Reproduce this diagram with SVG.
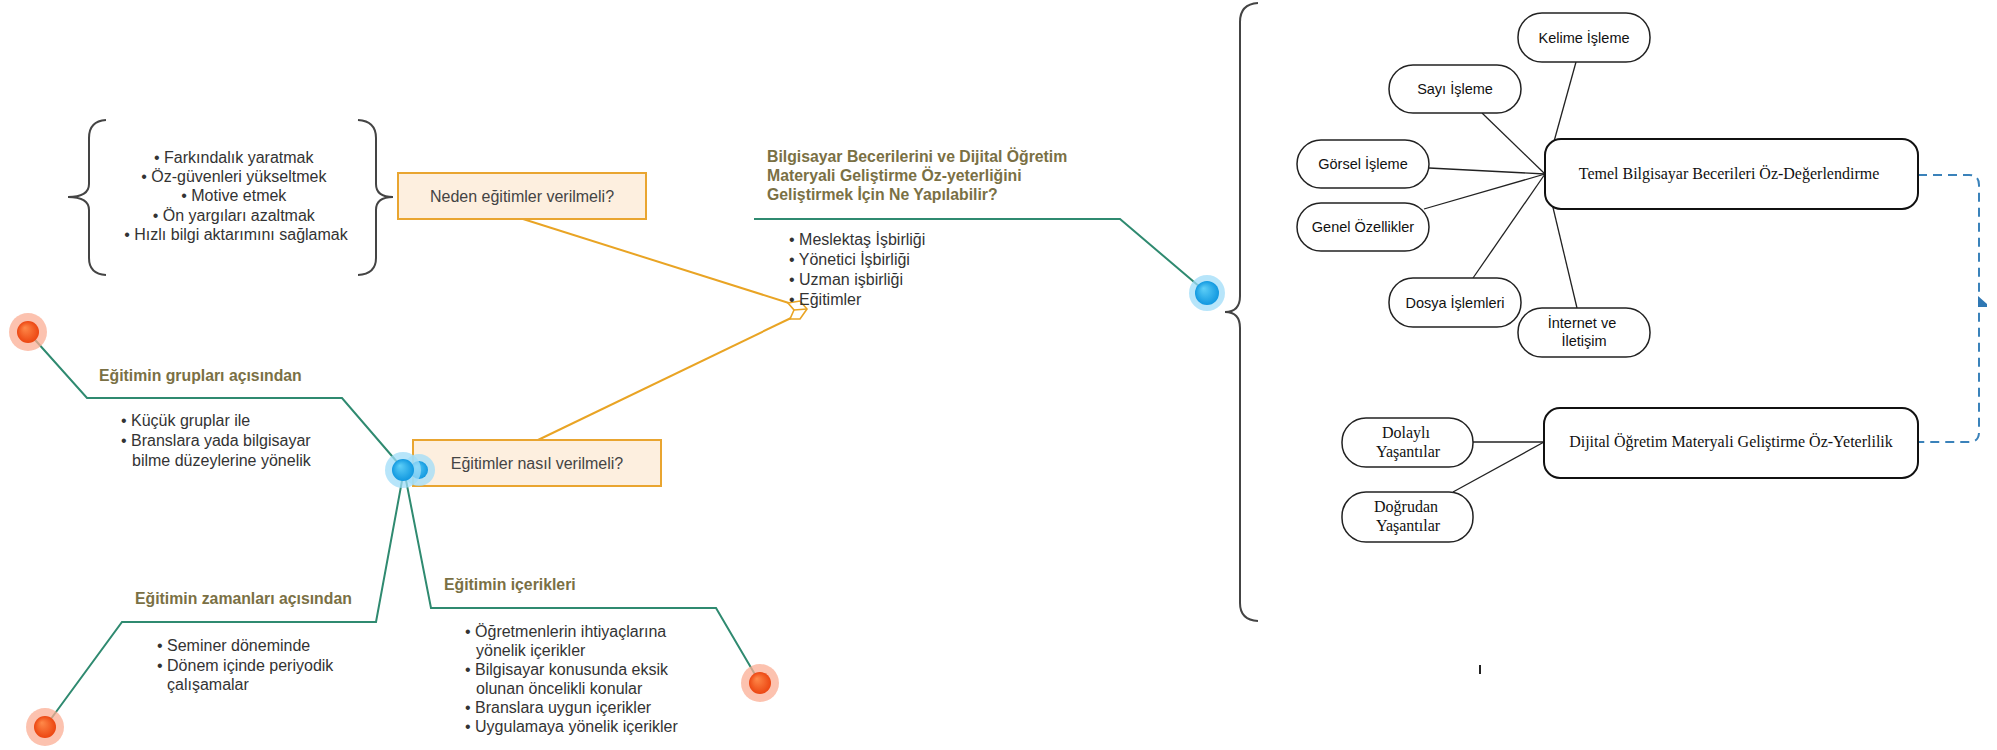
<svg xmlns="http://www.w3.org/2000/svg" width="1997" height="750" viewBox="0 0 1997 750">
  <style>
    .body { font-family: "Liberation Sans", Arial, sans-serif; font-size: 16px; fill: #333333; }
    .title { font-family: "Liberation Sans", Arial, sans-serif; font-size: 15.8px; font-weight: bold; fill: #7a7044; }
    .qbox { fill: #fdefdf; stroke: #e9a530; stroke-width: 2; }
    .qtext { font-family: "Liberation Sans", Arial, sans-serif; font-size: 16px; fill: #444444; text-anchor: middle; }
    .branch { fill: none; stroke: #2f8a70; stroke-width: 2; }
    .link { fill: none; stroke: #e9a424; stroke-width: 2; }
    .brace { fill: none; stroke: #444444; stroke-width: 2; }
    .pill { fill: #ffffff; stroke: #222222; stroke-width: 1.5; }
    .main { fill: #ffffff; stroke: #111111; stroke-width: 2; }
    .pilltext { font-family: "Liberation Sans", Arial, sans-serif; font-size: 14.5px; fill: #111111; text-anchor: middle; }
    .serif { font-family: "Liberation Serif", "Times New Roman", serif; font-size: 16px; fill: #111111; text-anchor: middle; }
    .spoke { fill: none; stroke: #222222; stroke-width: 1.3; }
    .dash { fill: none; stroke: #3a82ba; stroke-width: 2; stroke-dasharray: 9 6; }
    .haloRed { fill: #fbae94; opacity: 0.75; }
    .haloBlue { fill: #9fdcf8; opacity: 0.75; }
  </style>
  <defs>
    <radialGradient id="coreRed" cx="50%" cy="50%" r="50%" fx="35%" fy="30%">
      <stop offset="0" stop-color="#ff8a4a"/>
      <stop offset="1" stop-color="#ec4612"/>
    </radialGradient>
    <radialGradient id="coreBlue" cx="50%" cy="50%" r="50%" fx="35%" fy="30%">
      <stop offset="0" stop-color="#5fd0f8"/>
      <stop offset="1" stop-color="#1198e0"/>
    </radialGradient>
  </defs>

  <rect width="1997" height="750" fill="#ffffff"/>

  <!-- connectors -->
  <g id="connectors">
    <!-- mind-map branches -->
    <path class="branch" d="M28 332 L87 398 L342 398 L404 470"/>
    <path class="branch" d="M404 470 L376 622 L122 622 L45 727"/>
    <path class="branch" d="M404 470 L431 608 L716 608 L760 683"/>
    <path class="branch" d="M754 219 L1120 219 L1207 293"/>
    <!-- question links -->
    <path class="link" d="M523 219 L792 304"/>
    <path class="link" d="M538 440 L791 318"/>
    <g id="link-head">
      <polygon points="788,303 800,301 807,309 800,319 790,319 794,310" fill="#ffffff" stroke="#e9a424" stroke-width="1.6"/>
      <line x1="794" y1="310" x2="807" y2="309" stroke="#e9a424" stroke-width="1.6"/>
    </g>
    <!-- spokes to the self-assessment box -->
    <line class="spoke" x1="1576" y1="62" x2="1545" y2="174"/>
    <line class="spoke" x1="1482" y1="113" x2="1545" y2="174"/>
    <line class="spoke" x1="1429" y1="168" x2="1545" y2="174"/>
    <line class="spoke" x1="1424" y1="209" x2="1545" y2="174"/>
    <line class="spoke" x1="1473" y1="278" x2="1545" y2="174"/>
    <line class="spoke" x1="1577" y1="308" x2="1545" y2="174"/>
    <!-- experiences to the self-efficacy box -->
    <line class="spoke" x1="1473" y1="442" x2="1544" y2="442"/>
    <line class="spoke" x1="1453" y1="492" x2="1544" y2="442"/>
    <!-- dashed relation between the two boxes -->
    <path class="dash" d="M1918 175 H1969 Q1979 175 1979 185 V432 Q1979 442 1969 442 H1918"/>
    <polygon points="1978,296 1987,304 1987,307 1978,307" fill="#2f78b4"/>
  </g>

  <!-- reasons list with braces -->
  <g id="reasons">
    <path class="brace" d="M106 120 Q89 121 89 138 V184 Q89 197 68 197 Q89 197 89 210 V258 Q89 274 106 275"/>
    <path class="brace" d="M358 120 Q376 121 376 138 V184 Q376 197 393 197 Q376 197 376 210 V258 Q376 274 358 275"/>
    <text class="body" text-anchor="middle">
      <tspan x="236" y="163">• Farkındalık yaratmak</tspan>
      <tspan x="236" y="182">• Öz-güvenleri yükseltmek</tspan>
      <tspan x="236" y="201">• Motive etmek</tspan>
      <tspan x="236" y="221">• Ön yargıları azaltmak</tspan>
      <tspan x="236" y="240">• Hızlı bilgi aktarımını sağlamak</tspan>
    </text>
  </g>

  <g id="q-neden">
    <rect class="qbox" x="398" y="173" width="248" height="46"/>
    <text class="qtext" x="522" y="202">Neden eğitimler verilmeli?</text>
  </g>

  <g id="q-nasil">
    <rect class="qbox" x="413" y="440" width="248" height="46"/>
    <text class="qtext" x="537" y="469">Eğitimler nasıl verilmeli?</text>
  </g>

  <g id="branch-gruplar">
    <text class="title" x="99" y="381">Eğitimin grupları açısından</text>
    <text class="body">
      <tspan x="121" y="426">• Küçük gruplar ile</tspan>
      <tspan x="121" y="446">• Branslara yada bilgisayar</tspan>
      <tspan x="132" y="466">bilme düzeylerine yönelik</tspan>
    </text>
  </g>

  <g id="branch-zaman">
    <text class="title" x="135" y="604">Eğitimin zamanları açısından</text>
    <text class="body">
      <tspan x="157" y="651">• Seminer döneminde</tspan>
      <tspan x="157" y="671">• Dönem içinde periyodik</tspan>
      <tspan x="167" y="690">çalışamalar</tspan>
    </text>
  </g>

  <g id="branch-icerik">
    <text class="title" x="444" y="590">Eğitimin içerikleri</text>
    <text class="body">
      <tspan x="465" y="637">• Öğretmenlerin ihtiyaçlarına</tspan>
      <tspan x="476" y="656">yönelik içerikler</tspan>
      <tspan x="465" y="675">• Bilgisayar konusunda eksik</tspan>
      <tspan x="476" y="694">olunan öncelikli konular</tspan>
      <tspan x="465" y="713">• Branslara uygun içerikler</tspan>
      <tspan x="465" y="732">• Uygulamaya yönelik içerikler</tspan>
    </text>
  </g>

  <g id="branch-main">
    <text class="title">
      <tspan x="767" y="162">Bilgisayar Becerilerini ve Dijital Öğretim</tspan>
      <tspan x="767" y="181">Materyali Geliştirme Öz-yeterliğini</tspan>
      <tspan x="767" y="200">Geliştirmek İçin Ne Yapılabilir?</tspan>
    </text>
    <text class="body">
      <tspan x="789" y="245">• Meslektaş İşbirliği</tspan>
      <tspan x="789" y="265">• Yönetici İşbirliği</tspan>
      <tspan x="789" y="285">• Uzman işbirliği</tspan>
      <tspan x="789" y="305">• Eğitimler</tspan>
    </text>
  </g>

  <!-- endpoint dots -->
  <g id="dot-gruplar">
    <circle class="haloRed" cx="28" cy="332" r="19"/>
    <circle cx="28" cy="332" r="11" fill="url(#coreRed)"/>
  </g>
  <g id="dot-zaman">
    <circle class="haloRed" cx="45" cy="727" r="19"/>
    <circle cx="45" cy="727" r="11" fill="url(#coreRed)"/>
  </g>
  <g id="dot-icerik">
    <circle class="haloRed" cx="760" cy="683" r="19"/>
    <circle cx="760" cy="683" r="11" fill="url(#coreRed)"/>
  </g>
  <g id="hub-nasil">
    <circle class="haloBlue" cx="419" cy="470" r="16"/>
    <circle cx="419" cy="470" r="9" fill="url(#coreBlue)"/>
    <circle class="haloBlue" cx="403" cy="470" r="18"/>
    <circle cx="403" cy="470" r="11" fill="url(#coreBlue)"/>
  </g>
  <g id="hub-main">
    <circle class="haloBlue" cx="1207" cy="293" r="18"/>
    <circle cx="1207" cy="293" r="12" fill="url(#coreBlue)"/>
  </g>

  <!-- large brace grouping the model -->
  <path id="model-brace" class="brace" d="M1258 3 Q1240 4 1240 22 V296 Q1240 312 1225 312 Q1240 312 1240 328 V603 Q1240 620 1258 621"/>

  <g id="n-kelime">
    <rect class="pill" x="1518" y="13" width="132" height="49" rx="24"/>
    <text class="pilltext" x="1584" y="43">Kelime İşleme</text>
  </g>
  <g id="n-sayi">
    <rect class="pill" x="1389" y="65" width="132" height="48" rx="24"/>
    <text class="pilltext" x="1455" y="94">Sayı İşleme</text>
  </g>
  <g id="n-gorsel">
    <rect class="pill" x="1297" y="140" width="132" height="48" rx="24"/>
    <text class="pilltext" x="1363" y="169">Görsel İşleme</text>
  </g>
  <g id="n-genel">
    <rect class="pill" x="1297" y="203" width="132" height="48" rx="24"/>
    <text class="pilltext" x="1363" y="232">Genel Özellikler</text>
  </g>
  <g id="n-dosya">
    <rect class="pill" x="1389" y="278" width="132" height="49" rx="24"/>
    <text class="pilltext" x="1455" y="308">Dosya İşlemleri</text>
  </g>
  <g id="n-internet">
    <rect class="pill" x="1518" y="308" width="132" height="49" rx="24"/>
    <text class="pilltext">
      <tspan x="1584" y="328">İnternet ve</tspan>
      <tspan x="1584" y="346">İletişim</tspan>
    </text>
  </g>
  <g id="n-temel">
    <rect class="main" x="1545" y="139" width="373" height="70" rx="16"/>
    <text class="serif" x="1729" y="179">Temel Bilgisayar Becerileri Öz-Değerlendirme</text>
  </g>
  <g id="n-dolayli">
    <rect class="pill" x="1342" y="418" width="131" height="49" rx="24"/>
    <text class="serif">
      <tspan x="1408" y="438">Dolaylı</tspan>
      <tspan x="1408" y="457">Yaşantılar</tspan>
    </text>
  </g>
  <g id="n-dogrudan">
    <rect class="pill" x="1342" y="492" width="131" height="50" rx="24"/>
    <text class="serif">
      <tspan x="1408" y="512">Doğrudan</tspan>
      <tspan x="1408" y="531">Yaşantılar</tspan>
    </text>
  </g>
  <g id="n-dijital">
    <rect class="main" x="1544" y="408" width="374" height="70" rx="16"/>
    <text class="serif" x="1731" y="447">Dijital Öğretim Materyali Geliştirme Öz-Yeterlilik</text>
  </g>

  <line x1="1480" y1="665" x2="1480" y2="674" stroke="#222222" stroke-width="2"/>
</svg>
